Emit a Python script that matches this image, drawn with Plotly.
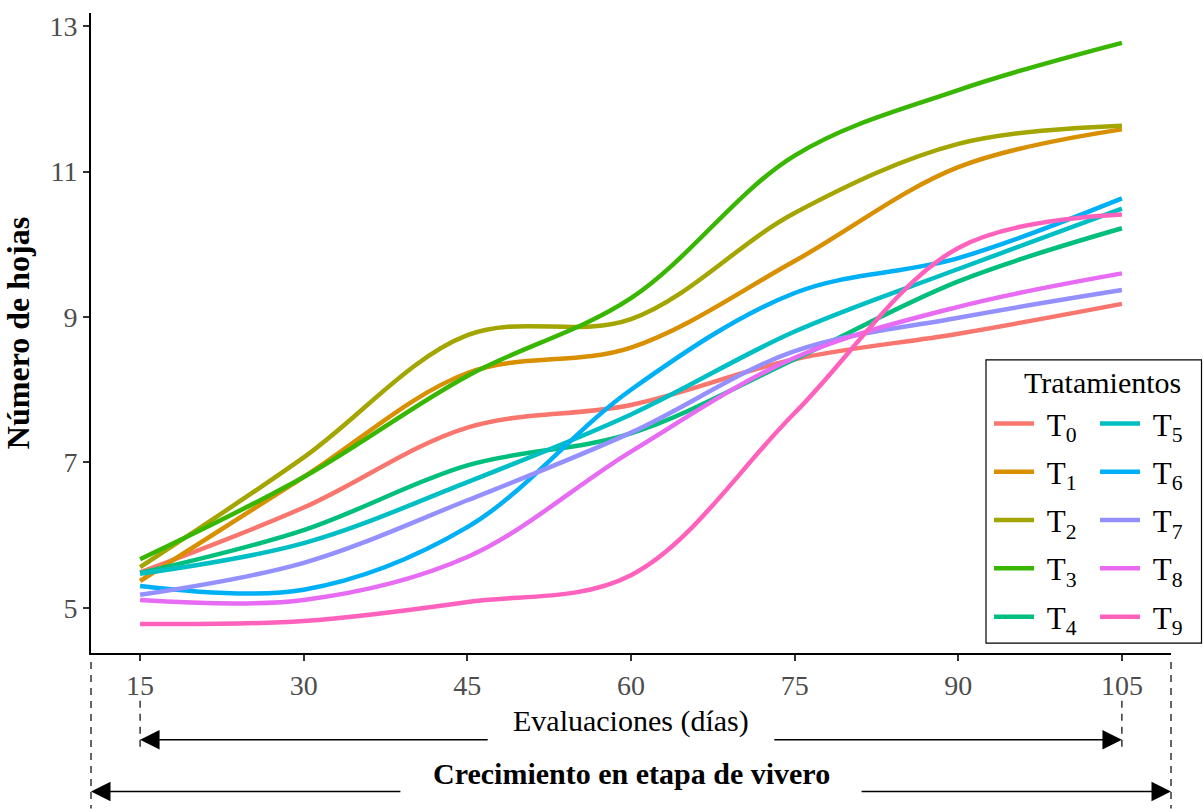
import plotly.graph_objects as go

# ---------------- data ----------------
days = [15, 30, 45, 60, 75, 90, 105]

t0 = [5.49, 6.38, 7.48, 7.79, 8.42, 8.77, 9.18]
t1 = [5.37, 6.80, 8.23, 8.58, 9.77, 11.06, 11.58]
t2 = [5.56, 7.07, 8.75, 8.97, 10.43, 11.38, 11.63]
t3 = [5.67, 6.80, 8.19, 9.26, 11.22, 12.12, 12.77]
t4 = [5.48, 6.07, 6.96, 7.40, 8.42, 9.49, 10.22]
t5 = [5.47, 5.89, 6.73, 7.66, 8.80, 9.66, 10.49]
t6 = [5.30, 5.25, 6.11, 8.00, 9.33, 9.81, 10.63]
t7 = [5.18, 5.62, 6.48, 7.41, 8.53, 8.99, 9.37]
t8 = [5.11, 5.11, 5.70, 7.15, 8.44, 9.14, 9.60]
t9 = [4.78, 4.82, 5.08, 5.45, 7.68, 9.95, 10.41]

series = [t0, t1, t2, t3, t4, t5, t6, t7, t8, t9]
labels = ["&nbsp;T<sub>%d</sub>" % i for i in range(10)]
colors = ["#F8766D", "#D89000", "#A3A500", "#39B600", "#00BF7D",
          "#00BFC4", "#00B0F6", "#9590FF", "#E76BF3", "#FF62BC"]

y_ticks = [5, 7, 9, 11, 13]

FONT = "Liberation Serif"

fig = go.Figure()
for i, (vals, lab, col) in enumerate(zip(series, labels, colors)):
    fig.add_trace(go.Scatter(
        x=days, y=vals, mode="lines", name=lab,
        line=dict(color=col, width=4.5, shape="spline", smoothing=1.0),
        legend="legend" if i < 5 else "legend2",
        legendgroup="g%d" % i,
        hoverinfo="skip",
    ))

# plot area geometry (pixels) used to convert reference positions to paper coords
L, R, T, B = 91, 32, 11, 156
W, H = 1203, 809
PW = W - L - R
PH = H - T - B


def px(xpix):
    return (xpix - L) / PW


def py(ypix):
    return (H - B - ypix) / PH


axis_common = dict(
    showline=True, linecolor="black", linewidth=2,
    ticks="outside", ticklen=6, tickwidth=1.5, tickcolor="#333333",
    tickfont=dict(family=FONT, size=28, color="#4D4D4D"),
    showgrid=False, zeroline=False,
)

legend_common = dict(
    orientation="v", xanchor="left", yanchor="top",
    bgcolor="rgba(0,0,0,0)", borderwidth=0,
    font=dict(family=FONT, size=31, color="black"),
    traceorder="grouped", tracegroupgap=5, itemwidth=40,
)

fig.update_layout(
    width=W, height=H,
    margin=dict(l=L, r=R, t=T, b=B),
    plot_bgcolor="white", paper_bgcolor="white",
    font=dict(family=FONT, color="black"),
    xaxis=dict(range=[10.5, 109.5], tickvals=days, **axis_common),
    yaxis=dict(range=[4.38, 13.18], tickvals=y_ticks,
               title=dict(text="<b>Número de hojas</b>",
                          font=dict(family=FONT, size=32, color="black"),
                          standoff=12),
               **axis_common),
    legend=dict(x=px(989), y=py(396), **legend_common),
    legend2=dict(x=px(1095), y=py(396), **legend_common),
    showlegend=True,
)

# legend frame and title
fig.add_shape(type="rect", xref="paper", yref="paper",
              x0=px(986), x1=px(1201.5), y0=py(643), y1=py(359),
              line=dict(color="black", width=1.2), fillcolor="rgba(0,0,0,0)")
fig.add_annotation(text="Tratamientos", xref="paper", yref="paper",
                   x=px(1102.5), y=py(382), xanchor="center", yanchor="middle",
                   showarrow=False,
                   font=dict(family=FONT, size=30, color="black"))

# dashed guide lines below the axis
dash_style = dict(color="black", width=1.2, dash="7px,6px")
for d in (days[0], days[-1]):
    fig.add_shape(type="line", xref="x", yref="paper",
                  x0=d, x1=d, y0=py(701), y1=py(753), line=dash_style)
for xp in (0.0, px(1171)):
    fig.add_shape(type="line", xref="paper", yref="paper",
                  x0=xp, x1=xp, y0=py(662), y1=py(809), line=dash_style)

# arrows
arrow_common = dict(text="", xref="x", yref="paper", axref="x", ayref="pixel",
                    ay=0, showarrow=True, arrowhead=2, arrowsize=2.6,
                    arrowwidth=1.5, arrowcolor="black")
y_eval = py(740)
y_crec = py(792)
fig.add_annotation(x=days[0], ax=47, y=y_eval, **arrow_common)
fig.add_annotation(x=days[-1], ax=73, y=y_eval, **arrow_common)
fig.add_annotation(x=10.5, ax=39, y=y_crec, **arrow_common)
fig.add_annotation(x=109.5, ax=81, y=y_crec, **arrow_common)

fig.add_annotation(text="Evaluaciones (días)", x=60, y=y_eval, xref="x", yref="paper",
                   xanchor="center", showarrow=False,
                   font=dict(family=FONT, size=30, color="black"))
fig.add_annotation(text="<b>Crecimiento en etapa de vivero</b>", x=60, y=y_crec,
                   xref="x", yref="paper", xanchor="center", showarrow=False,
                   font=dict(family=FONT, size=30, color="black"))

fig.write_html(
    "out.html",
    config={"displayModeBar": False},
    post_script="document.body.style.margin='0';document.body.style.overflow='hidden';",
)
